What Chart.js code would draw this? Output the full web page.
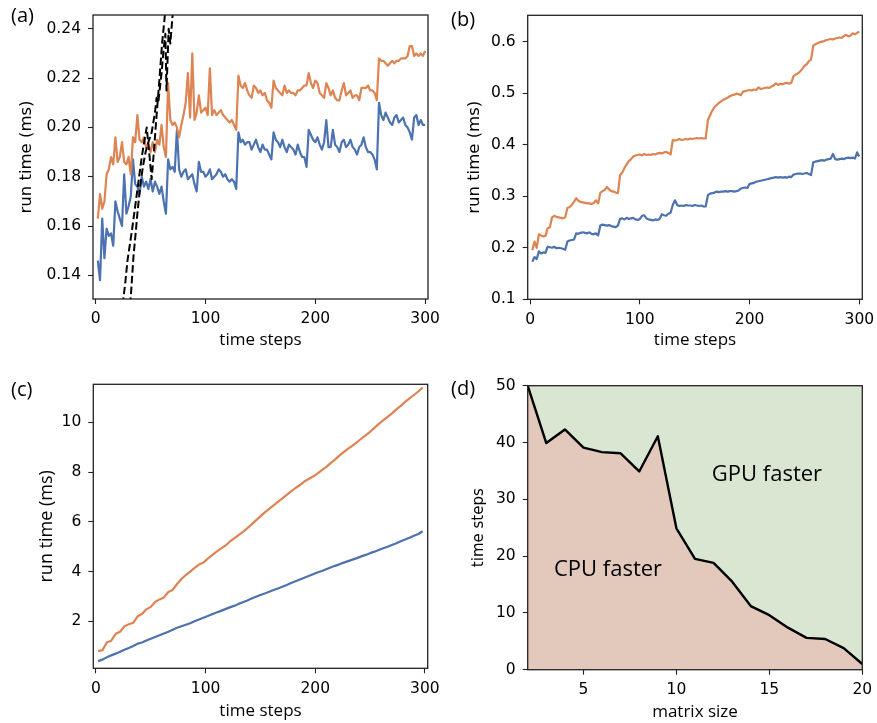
<!DOCTYPE html>
<html><head><meta charset="utf-8">
<script src="https://cdn.jsdelivr.net/npm/chart.js@4.4.1/dist/chart.umd.min.js"></script>
<style>
html,body{margin:0;padding:0;background:#fff;}
body{width:877px;height:723px;position:relative;overflow:hidden;}
canvas{position:absolute;}
.lab{position:absolute;font-family:'Open Sans';font-size:20px;color:#000;line-height:20px;white-space:nowrap;}
</style></head><body>
<canvas id="ca" width="440" height="360" style="left:0;top:0"></canvas>
<canvas id="cb" width="437" height="360" style="left:440px;top:0"></canvas>
<canvas id="cc" width="440" height="363" style="left:0;top:360px"></canvas>
<canvas id="cd" width="437" height="363" style="left:440px;top:360px"></canvas>
<div class="lab" style="left:11px;top:5px">(a)</div>
<div class="lab" style="left:451px;top:9px">(b)</div>
<div class="lab" style="left:11px;top:379px">(c)</div>
<div class="lab" style="left:451px;top:378px">(d)</div>
<script>
// ---------- DATA ----------
// time steps sampled for panels (a),(b): 2,4,...,300 ; panel (c): 2,6,...,298
const stepsAB = Array.from({length:150},(_, i)=>2+2*i);
const stepsC  = Array.from({length:75},(_, i)=>2+4*i);

const aOrange = [
0.163,0.173,0.167,0.170,0.181,0.183,0.188,0.185,0.196,0.186,
0.188,0.194,0.186,0.185,0.188,0.181,0.196,0.194,0.205,0.195,
0.194,0.196,0.192,0.193,0.190,0.194,0.190,0.195,0.193,0.201,
0.192,0.188,0.218,0.203,0.201,0.202,0.200,0.196,0.201,0.205,
0.210,0.222,0.204,0.230,0.203,0.206,0.213,0.206,0.207,0.208,
0.205,0.224,0.205,0.207,0.205,0.206,0.207,0.205,0.204,0.203,
0.202,0.203,0.201,0.199,0.221,0.217,0.216,0.218,0.215,0.213,
0.212,0.217,0.216,0.214,0.215,0.213,0.214,0.211,0.210,0.208,
0.219,0.216,0.215,0.214,0.213,0.217,0.214,0.215,0.214,0.214,
0.213,0.215,0.215,0.216,0.217,0.217,0.222,0.218,0.216,0.219,
0.218,0.214,0.213,0.212,0.218,0.216,0.213,0.215,0.212,0.211,
0.211,0.215,0.218,0.213,0.214,0.215,0.212,0.213,0.213,0.211,
0.216,0.216,0.216,0.217,0.215,0.215,0.214,0.211,0.228,0.227,
0.227,0.226,0.225,0.226,0.227,0.226,0.227,0.227,0.228,0.228,
0.228,0.229,0.233,0.233,0.229,0.230,0.229,0.230,0.229,0.231];
const aBlue = [
0.146,0.138,0.163,0.147,0.159,0.156,0.157,0.152,0.170,0.166,
0.163,0.160,0.181,0.165,0.168,0.172,0.187,0.177,0.176,0.173,
0.180,0.176,0.178,0.175,0.179,0.174,0.178,0.176,0.173,0.176,
0.170,0.165,0.187,0.183,0.184,0.182,0.199,0.183,0.180,0.182,
0.183,0.179,0.180,0.181,0.177,0.174,0.186,0.182,0.182,0.180,
0.181,0.183,0.179,0.180,0.181,0.183,0.182,0.180,0.181,0.179,
0.178,0.179,0.178,0.175,0.198,0.194,0.195,0.193,0.194,0.194,
0.191,0.193,0.195,0.192,0.190,0.193,0.191,0.191,0.189,0.187,
0.198,0.195,0.194,0.192,0.195,0.192,0.190,0.193,0.192,0.191,
0.189,0.193,0.190,0.188,0.188,0.184,0.199,0.197,0.195,0.194,
0.196,0.193,0.191,0.194,0.203,0.192,0.192,0.199,0.193,0.192,
0.190,0.194,0.195,0.192,0.193,0.195,0.192,0.191,0.189,0.192,
0.193,0.196,0.192,0.190,0.190,0.189,0.187,0.183,0.210,0.205,
0.203,0.206,0.204,0.202,0.201,0.204,0.205,0.202,0.203,0.204,
0.201,0.200,0.198,0.195,0.204,0.205,0.201,0.203,0.201,0.201];
// dashed reference curves in (a)
const dashLx = [24.5,27,29,31,33,36,39,42,44.5,46.5,48.5,51,53,55.5,58,60.5,62.5,63.5];
const dashLy = [0.128,0.137,0.146,0.152,0.158,0.168,0.178,0.188,0.195,0.200,0.191,0.179,0.190,0.205,0.219,0.234,0.243,0.248];
const dashRx = [31.5,33,34.5,36,38,40.5,43,45.5,48,51,54,55.5,57,60,62,63.5,64.5,66.5,68,70.5];
const dashRy = [0.128,0.138,0.148,0.155,0.165,0.176,0.184,0.190,0.194,0.198,0.206,0.212,0.210,0.222,0.232,0.238,0.215,0.240,0.234,0.248];

const bOrange = [
0.195,0.212,0.200,0.226,0.224,0.222,0.223,0.238,0.240,0.259,
0.262,0.260,0.259,0.258,0.257,0.259,0.277,0.279,0.283,0.289,
0.296,0.291,0.289,0.288,0.287,0.286,0.286,0.285,0.287,0.292,
0.286,0.307,0.310,0.312,0.318,0.313,0.310,0.309,0.307,0.306,
0.341,0.346,0.355,0.362,0.368,0.372,0.377,0.379,0.380,0.381,
0.379,0.382,0.380,0.381,0.380,0.382,0.381,0.383,0.384,0.383,
0.385,0.386,0.384,0.381,0.409,0.408,0.409,0.411,0.409,0.410,
0.411,0.410,0.412,0.411,0.412,0.413,0.412,0.413,0.412,0.412,
0.448,0.457,0.466,0.473,0.477,0.481,0.484,0.487,0.489,0.491,
0.494,0.496,0.497,0.499,0.498,0.496,0.503,0.504,0.505,0.506,
0.505,0.507,0.506,0.511,0.508,0.509,0.510,0.511,0.510,0.513,
0.515,0.519,0.516,0.518,0.517,0.519,0.520,0.518,0.520,0.533,
0.536,0.538,0.542,0.547,0.553,0.556,0.562,0.565,0.592,0.595,
0.597,0.599,0.600,0.601,0.603,0.604,0.605,0.604,0.606,0.607,
0.608,0.607,0.611,0.613,0.610,0.612,0.616,0.614,0.617,0.619];
const bBlue = [
0.173,0.182,0.178,0.193,0.189,0.191,0.190,0.202,0.201,0.200,
0.202,0.199,0.200,0.199,0.198,0.196,0.212,0.214,0.215,0.216,
0.228,0.227,0.229,0.230,0.229,0.228,0.230,0.227,0.226,0.228,
0.224,0.243,0.245,0.244,0.243,0.244,0.242,0.241,0.240,0.243,
0.256,0.257,0.255,0.258,0.256,0.257,0.258,0.255,0.254,0.256,
0.262,0.263,0.257,0.255,0.254,0.253,0.255,0.254,0.256,0.265,
0.263,0.262,0.266,0.268,0.283,0.292,0.283,0.281,0.282,0.281,
0.283,0.282,0.282,0.281,0.283,0.282,0.281,0.282,0.280,0.280,
0.302,0.305,0.306,0.307,0.309,0.308,0.309,0.309,0.310,0.309,
0.310,0.310,0.309,0.310,0.311,0.315,0.316,0.317,0.316,0.324,
0.325,0.326,0.328,0.329,0.330,0.331,0.332,0.333,0.334,0.335,
0.336,0.337,0.336,0.337,0.336,0.337,0.336,0.338,0.337,0.342,
0.343,0.344,0.344,0.343,0.344,0.345,0.343,0.341,0.366,0.367,
0.368,0.369,0.370,0.369,0.371,0.372,0.373,0.382,0.372,0.371,
0.372,0.373,0.372,0.374,0.375,0.374,0.375,0.373,0.385,0.377];

const cOrange = [
0.80,0.84,1.16,1.22,1.50,1.58,1.80,1.88,1.94,2.20,
2.29,2.48,2.58,2.78,2.88,2.96,3.18,3.26,3.50,3.70,
3.86,4.00,4.15,4.28,4.36,4.52,4.66,4.80,4.92,5.04,
5.20,5.33,5.46,5.60,5.74,5.90,6.06,6.22,6.38,6.52,
6.66,6.80,6.94,7.08,7.22,7.36,7.48,7.62,7.72,7.82,
7.94,8.08,8.20,8.36,8.50,8.66,8.80,8.94,9.06,9.20,
9.34,9.48,9.62,9.78,9.94,10.08,10.22,10.36,10.52,10.66,
10.82,10.96,11.10,11.24,11.40];
const cBlue = [
0.40,0.46,0.55,0.63,0.70,0.78,0.86,0.93,1.01,1.10,
1.15,1.23,1.30,1.37,1.44,1.51,1.58,1.66,1.74,1.80,
1.86,1.92,2.00,2.07,2.14,2.21,2.28,2.35,2.42,2.49,
2.56,2.62,2.70,2.77,2.84,2.92,2.99,3.06,3.12,3.19,
3.26,3.32,3.39,3.46,3.54,3.61,3.68,3.75,3.82,3.89,
3.96,4.02,4.09,4.16,4.23,4.29,4.36,4.42,4.48,4.54,
4.61,4.67,4.74,4.80,4.87,4.94,5.00,5.07,5.14,5.22,
5.29,5.36,5.44,5.51,5.62];

const dSize  = [2,3,4,5,6,7,8,9,10,11,12,13,14,15,16,17,18,19,20];
const dSteps = [50,39.9,42.3,39.1,38.3,38.1,34.9,41.1,24.9,19.5,18.8,15.5,11.2,9.6,7.4,5.6,5.4,3.8,1.0];

// tick values and labels
const xTicksT = [0,100,200,300], xLabelsT = ['0','100','200','300'];
const aYTicks = [0.14,0.16,0.18,0.20,0.22,0.24], aYLabels = ['0.14','0.16','0.18','0.20','0.22','0.24'];
const bYTicks = [0.1,0.2,0.3,0.4,0.5,0.6], bYLabels = ['0.1','0.2','0.3','0.4','0.5','0.6'];
const cYTicks = [2,4,6,8,10], cYLabels = ['2','4','6','8','10'];
const dXTicks = [5,10,15,20], dXLabels = ['5','10','15','20'];
const dYTicks = [0,10,20,30,40,50], dYLabels = ['0','10','20','30','40','50'];

// ---------- STYLE ----------
const BLUE = '#4c72b0', ORANGE = '#dd8452';
const TICK_FONT = {family:'DejaVu Sans', size:15.5};
Chart.defaults.font.family = 'DejaVu Sans';
Chart.defaults.color = '#000';

function mkScale(o){
  return {
    type:'linear', min:o.min, max:o.max,
    afterBuildTicks: s => { s.ticks = o.ticks.map(v=>({value:v})); },
    afterFit: s => {
      if (o.width!=null) s.width = o.width;
      if (o.height!=null) s.height = o.height;
      s.paddingLeft = s.paddingRight = s.paddingTop = s.paddingBottom = 0;
    },
    ticks:{autoSkip:false, maxRotation:0, minRotation:0, padding:o.tpad, font:TICK_FONT, color:'#000',
           callback:(v,i)=>o.labels[i]},
    grid:{display:true, drawOnChartArea:false, drawTicks:true, tickLength:5, tickWidth:1.1,
          tickColor:'#222', color:'rgba(0,0,0,0)'},
    border:{display:false},
    title:{display:true, text:o.title, font:o.tfont, color:'#000', padding:o.tp}
  };
}
const framePlugin = {
  id:'frame',
  afterDraw(chart){
    const {ctx, chartArea:a} = chart;
    ctx.save(); ctx.strokeStyle = '#222'; ctx.lineWidth = 1.3;
    ctx.strokeRect(a.left, a.top, a.right-a.left, a.bottom-a.top);
    ctx.restore();
  }
};
function line(xs, ys, color, extra){
  return Object.assign({
    data: xs.map((x,i)=>({x:x, y:ys[i]})),
    borderColor:color, borderWidth:2.2, pointRadius:0, tension:0, fill:false,
    borderJoinStyle:'round', clip:0
  }, extra||{});
}
function baseOpts(pad, xs, ys){
  return {
    responsive:false, animation:false, devicePixelRatio:1,
    layout:{padding:pad},
    plugins:{legend:{display:false}, tooltip:{enabled:false}},
    scales:{x:xs, y:ys}
  };
}
const OPEN = 'Open Sans';

// ---------- (a) ----------
new Chart(document.getElementById('ca'), {
  type:'line',
  data:{datasets:[
    line(dashLx, dashLy, '#000', {borderDash:[7.5,3.3], borderWidth:2}),
    line(dashRx, dashRy, '#000', {borderDash:[7.5,3.3], borderWidth:2}),
    line(stepsAB, aOrange, ORANGE),
    line(stepsAB, aBlue, BLUE)
  ]},
  options: baseOpts({top:15,right:12,left:0,bottom:0},
    mkScale({min:-2.4,max:302.6,ticks:xTicksT,labels:xLabelsT,height:61,tpad:6,
      title:'time steps',tfont:{family:OPEN,size:17},tp:{top:0,bottom:9.8}}),
    mkScale({min:0.1304,max:0.2456,ticks:aYTicks,labels:aYLabels,width:93,tpad:7,
      title:'run time (ms)',tfont:{family:'DejaVu Sans',size:16.5},tp:{top:17,bottom:0}})),
  plugins:[framePlugin]
});

// ---------- (b) ----------
new Chart(document.getElementById('cb'), {
  type:'line',
  data:{datasets:[ line(stepsAB, bOrange, ORANGE), line(stepsAB, bBlue, BLUE) ]},
  options: baseOpts({top:15.3,right:14.7,left:0,bottom:0},
    mkScale({min:-2.2,max:302.7,ticks:xTicksT,labels:xLabelsT,height:60.7,tpad:6,
      title:'time steps',tfont:{family:OPEN,size:17},tp:{top:0,bottom:9.8}}),
    mkScale({min:0.1,max:0.651,ticks:bYTicks,labels:bYLabels,width:87.7,tpad:7,
      title:'run time (ms)',tfont:{family:'DejaVu Sans',size:16.5},tp:{top:25,bottom:0}})),
  plugins:[framePlugin]
});

// ---------- (c) ----------
new Chart(document.getElementById('cc'), {
  type:'line',
  data:{datasets:[ line(stepsC, cOrange, ORANGE), line(stepsC, cBlue, BLUE) ]},
  options: baseOpts({top:24.3,right:12.3,left:0,bottom:0},
    mkScale({min:-2.4,max:302.6,ticks:xTicksT,labels:xLabelsT,height:54.7,tpad:6,
      title:'time steps',tfont:{family:OPEN,size:17},tp:{top:0,bottom:1.8}}),
    mkScale({min:0.11,max:11.53,ticks:cYTicks,labels:cYLabels,width:93.3,tpad:7,
      title:'run time (ms)',tfont:{family:OPEN,size:18},tp:{top:36,bottom:0}})),
  plugins:[framePlugin]
});

// ---------- (d) ----------
const regionText = {
  id:'regionText',
  afterDatasetsDraw(chart){
    const {ctx, scales:{x, y}} = chart;
    ctx.save();
    ctx.font = "22px 'Open Sans'"; ctx.fillStyle = '#000';
    ctx.textAlign = 'center'; ctx.textBaseline = 'middle';
    ctx.fillText('GPU faster', x.getPixelForValue(14.87), y.getPixelForValue(34.3));
    ctx.fillText('CPU faster', x.getPixelForValue(6.32), y.getPixelForValue(17.6));
    ctx.restore();
  }
};
new Chart(document.getElementById('cd'), {
  type:'line',
  data:{datasets:[
    line(dSize, dSteps, '#000', {borderWidth:2.4, fill:'end', backgroundColor:'#d9e6d2'}),
    line(dSize, dSteps, 'rgba(0,0,0,0)', {borderWidth:0, fill:'origin', backgroundColor:'#e2c9bc'})
  ]},
  options: baseOpts({top:25.7,right:14.7,left:0,bottom:0},
    mkScale({min:2,max:20,ticks:dXTicks,labels:dXLabels,height:53.3,tpad:6,
      title:'matrix size',tfont:{family:OPEN,size:17},tp:{top:0,bottom:0.5}}),
    mkScale({min:0,max:50,ticks:dYTicks,labels:dYLabels,width:87.7,tpad:7,
      title:'time steps',tfont:{family:'DejaVu Sans',size:15},tp:{top:30,bottom:0}})),
  plugins:[framePlugin, regionText]
});
</script>
</body></html>
